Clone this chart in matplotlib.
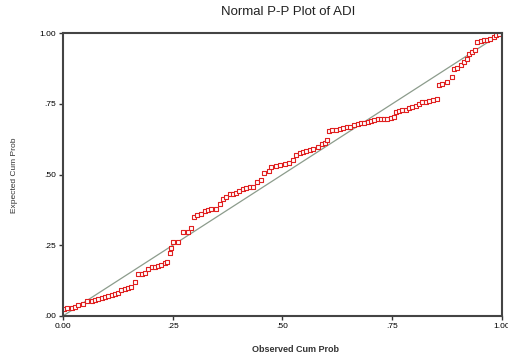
import matplotlib
matplotlib.use("Agg")
import matplotlib.pyplot as plt

plt.rcParams['font.family'] = ['Liberation Sans', 'DejaVu Sans']

# observed vs expected cumulative probabilities
observed = [0.002, 0.010, 0.020, 0.027, 0.035, 0.045, 0.055, 0.065, 0.073, 0.080,
            0.088, 0.095, 0.103, 0.111, 0.118, 0.126, 0.133, 0.141, 0.149, 0.156,
            0.164, 0.171, 0.179, 0.187, 0.194, 0.202, 0.209, 0.217, 0.224, 0.232,
            0.237, 0.243, 0.247, 0.251, 0.262, 0.274, 0.285, 0.292,
            0.298, 0.305, 0.315, 0.323, 0.330, 0.338, 0.348,
            0.357, 0.364, 0.372, 0.380, 0.387, 0.395, 0.402, 0.410, 0.417, 0.425,
            0.432, 0.442, 0.452, 0.459, 0.469,
            0.474, 0.486, 0.495, 0.505, 0.516, 0.523, 0.531, 0.539, 0.546, 0.554,
            0.563, 0.570, 0.580, 0.589, 0.597, 0.602,
            0.607, 0.614, 0.622, 0.630, 0.637, 0.646, 0.654, 0.664, 0.671, 0.679,
            0.686, 0.694, 0.702, 0.709, 0.717, 0.724, 0.732, 0.739, 0.747, 0.755,
            0.758, 0.766, 0.773, 0.781, 0.789, 0.796, 0.804, 0.811, 0.819, 0.827,
            0.834, 0.842, 0.853,
            0.857, 0.864, 0.876, 0.886, 0.891, 0.898, 0.906, 0.914, 0.921, 0.925,
            0.933, 0.939, 0.944, 0.952, 0.959, 0.967, 0.974, 0.982, 0.987, 0.993]
expected = [0.024, 0.027, 0.029, 0.033, 0.038, 0.042, 0.052, 0.054, 0.057, 0.059,
            0.065, 0.066, 0.071, 0.074, 0.078, 0.082, 0.092, 0.094, 0.098, 0.104,
            0.120, 0.148, 0.148, 0.153, 0.165, 0.174, 0.174, 0.177, 0.180, 0.186,
            0.192, 0.224, 0.240, 0.260, 0.260, 0.298, 0.298, 0.310,
            0.349, 0.357, 0.359, 0.372, 0.375, 0.379, 0.380,
            0.396, 0.412, 0.419, 0.431, 0.433, 0.435, 0.443, 0.448, 0.451, 0.455,
            0.455, 0.475, 0.481, 0.507, 0.512,
            0.528, 0.531, 0.534, 0.537, 0.542, 0.551, 0.569, 0.577, 0.581, 0.584,
            0.587, 0.592, 0.598, 0.608, 0.612, 0.624,
            0.655, 0.657, 0.659, 0.662, 0.663, 0.667, 0.669, 0.674, 0.678, 0.681,
            0.683, 0.685, 0.688, 0.693, 0.695, 0.696, 0.697, 0.697, 0.701, 0.704,
            0.721, 0.725, 0.728, 0.730, 0.734, 0.738, 0.742, 0.749, 0.756, 0.758,
            0.761, 0.763, 0.766,
            0.816, 0.820, 0.827, 0.846, 0.872, 0.878, 0.887, 0.899, 0.907, 0.926,
            0.934, 0.942, 0.969, 0.973, 0.975, 0.977, 0.981, 0.987, 0.992, 0.998]

ticks = [0, 0.25, 0.5, 0.75, 1.0]
xtick_labels = ['0.00', '.25', '.50', '.75', '1.00']
ytick_labels = ['.00', '.25', '.50', '.75', '1.00']

fig = plt.figure(figsize=(5.08, 3.57), dpi=100)
ax = fig.add_axes([0.124, 0.115, 0.864, 0.792])

# reference diagonal
ax.plot([0, 1], [0, 1], color='#8c9c8c', lw=0.9, zorder=1)
ax.scatter(observed, expected, marker='s', s=12, facecolors='white',
           edgecolors='#e02020', linewidths=0.8, zorder=2)

ax.set_xlim(0, 1)
ax.set_ylim(0, 1)
ax.set_xticks(ticks)
ax.set_xticklabels(xtick_labels)
ax.set_yticks(ticks)
ax.set_yticklabels(ytick_labels)
ax.tick_params(labelsize=6, length=3, width=1, color='#333333', pad=2)
for s in ax.spines.values():
    s.set_linewidth(1.5)
    s.set_color('#444444')

fig.text(288 / 508, 1 - 12 / 357, 'Normal P-P Plot of ADI', ha='center',
         va='center', fontsize=9.5, color='#222222')
fig.text(295 / 508, 1 - 349 / 357, 'Observed Cum Prob', ha='center',
         va='center', fontsize=6.5, fontweight='bold', color='#333333')
fig.text(14 / 508, 1 - 175 / 357, 'Expected Cum Prob', ha='center',
         va='center', rotation=90, fontsize=6, color='#333333')

fig.savefig('out.png', dpi=100)
